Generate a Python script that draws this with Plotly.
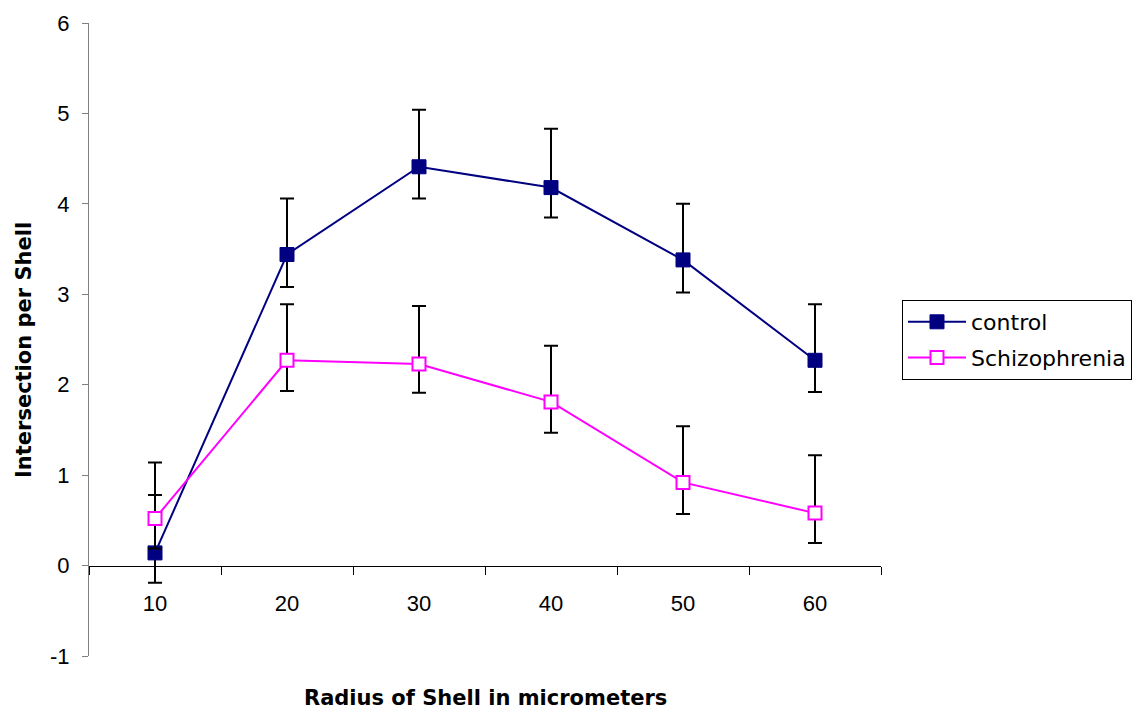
import plotly.graph_objects as go

# Shell radius categories (micrometers)
radius = ["10", "20", "30", "40", "50", "60"]

# Value-axis ticks
y_ticks = [-1, 0, 1, 2, 3, 4, 5, 6]
y_tick_text = ["-1", "0", "1", "2", "3", "4", "5", "6"]

# Mean intersections per shell
control = [0.14, 3.44, 4.41, 4.18, 3.38, 2.27]
control_plus = [0.64, 0.62, 0.63, 0.65, 0.62, 0.62]
control_minus = [0.33, 0.36, 0.35, 0.33, 0.36, 0.35]

schizophrenia = [0.52, 2.27, 2.23, 1.81, 0.92, 0.58]
schizo_plus = [0.62, 0.62, 0.64, 0.62, 0.62, 0.64]
schizo_minus = [0.33, 0.34, 0.32, 0.34, 0.35, 0.33]

FONT = "Liberation Sans, Arial, sans-serif"
WIDE = "DejaVu Sans, Verdana, sans-serif"

fig = go.Figure()

fig.add_trace(go.Scatter(
    x=radius, y=control, name="control", mode="lines+markers",
    line=dict(color="#000080", width=2),
    marker=dict(symbol="square", size=14, color="#000080",
                line=dict(color="#000080", width=1)),
    error_y=dict(type="data", symmetric=False, array=control_plus,
                 arrayminus=control_minus, color="black", thickness=2, width=7),
    legendgroup="a",
))

fig.add_trace(go.Scatter(
    x=radius, y=schizophrenia, name="Schizophrenia", mode="lines+markers",
    line=dict(color="#FF00FF", width=2),
    marker=dict(symbol="square", size=13, color="white",
                line=dict(color="#FF00FF", width=2)),
    error_y=dict(type="data", symmetric=False, array=schizo_plus,
                 arrayminus=schizo_minus, color="black", thickness=2, width=7),
    legendgroup="b",
))

# Category axis crosses the value axis at y = 0
y_min, y_max = -1, 6
zero_pos = (0 - y_min) / (y_max - y_min)

fig.update_layout(
    width=1134, height=710,
    margin=dict(l=89, r=253, t=23, b=54, autoexpand=False),
    paper_bgcolor="white", plot_bgcolor="white",
    font=dict(family=FONT, size=22, color="black"),
    showlegend=True,
    legend=dict(
        xref="container", yref="container",
        x=902 / 1134, y=1 - 300 / 710, xanchor="left", yanchor="top",
        bordercolor="black", borderwidth=1, bgcolor="white",
        font=dict(family=WIDE, size=22, color="black"),
        tracegroupgap=4, itemwidth=58,
    ),
    xaxis=dict(
        type="category", range=[-0.5, 5.5],
        anchor="free", position=zero_pos,
        showline=True, linecolor="black", linewidth=1,
        ticks="outside", tickson="boundaries", ticklen=8, tickcolor="black",
        showgrid=False, zeroline=False,
        tickfont=dict(family=FONT, size=22), ticklabelstandoff=18,
    ),
    yaxis=dict(
        range=[y_min, y_max], tickmode="array",
        tickvals=y_ticks, ticktext=y_tick_text,
        showline=True, linecolor="#808080", linewidth=1,
        ticks="outside", ticklen=6, tickcolor="#808080",
        showgrid=False, zeroline=False,
        tickfont=dict(family=FONT, size=22), ticklabelstandoff=8,
    ),
    annotations=[
        dict(text="<b>Radius of Shell in micrometers</b>", xref="paper", yref="paper",
             x=0.5, y=0, yshift=-42, xanchor="center", yanchor="middle",
             showarrow=False, font=dict(family=WIDE, size=21)),
        dict(text="<b>Intersection per Shell</b>", xref="paper", yref="paper",
             x=0, y=0.4834, xshift=-65, xanchor="center", yanchor="middle",
             textangle=-90, showarrow=False, font=dict(family=WIDE, size=21)),
    ],
)

fig.write_html("out.html")
